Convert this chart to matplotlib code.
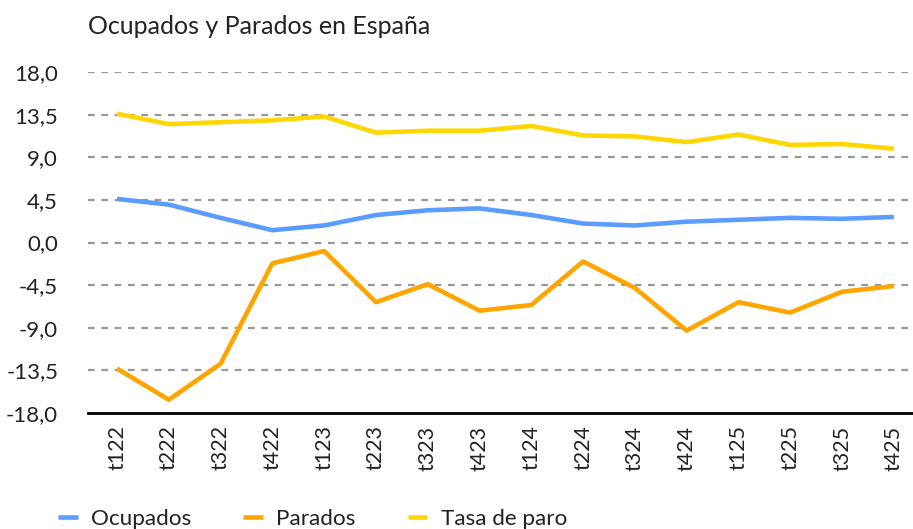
import matplotlib
matplotlib.use("Agg")
import matplotlib.pyplot as plt
from matplotlib.ticker import FixedLocator

plt.rcParams['font.family'] = ['Lato', 'DejaVu Sans']

categories = ["t122", "t222", "t322", "t422", "t123", "t223", "t323", "t423",
              "t124", "t224", "t324", "t424", "t125", "t225", "t325", "t425"]
ocupados = [4.6, 4.0, 2.6, 1.3, 1.8, 2.9, 3.4, 3.6, 2.9, 2.0, 1.8, 2.2, 2.4, 2.6, 2.5, 2.7]
parados = [-13.3, -16.6, -12.8, -2.2, -0.9, -6.3, -4.4, -7.2, -6.6, -2.0, -4.8, -9.3, -6.3, -7.4, -5.2, -4.6]
tasa_paro = [13.6, 12.5, 12.7, 12.9, 13.3, 11.6, 11.8, 11.8, 12.3, 11.3, 11.2, 10.6, 11.4, 10.3, 10.4, 9.9]
yticks = [18.0, 13.5, 9.0, 4.5, 0.0, -4.5, -9.0, -13.5, -18.0]

fig = plt.figure(figsize=(9.13, 5.29), dpi=100)
ax = fig.add_axes([88/913, (529-413)/529, (913-88)/913, 341/529])

x = list(range(len(categories)))
ax.plot(x, ocupados, color='#5B9DFF', lw=3.3, label='Ocupados', solid_capstyle='butt')
ax.plot(x, parados, color='#FFA500', lw=3.3, label='Parados', solid_capstyle='butt')
ax.plot(x, tasa_paro, color='#FFD700', lw=3.3, label='Tasa de paro', solid_capstyle='butt')

ax.set_xlim(-0.56, 15.37)
ax.set_ylim(-18, 18)
ax.yaxis.set_major_locator(FixedLocator(yticks))
ax.set_yticklabels([f"{v:.1f}".replace('.', ',') for v in yticks])
ax.set_xticks(x)
ax.set_xticklabels(categories, rotation=90)
for v in yticks:
    if v != -18:
        ax.axhline(v, color='#999999', lw=1.6, ls=(0, (3, 3)), zorder=0)

for s in ['top', 'right', 'left']:
    ax.spines[s].set_visible(False)
ax.spines['bottom'].set_linewidth(2)
ax.spines['bottom'].set_color('black')
ax.tick_params(axis='both', length=0, colors='#222222')
ax.tick_params(axis='y', pad=21.5, labelsize=16)
ax.tick_params(axis='x', pad=9, labelsize=15.5)

fig.text(88/913, 1 - 27/529, "Ocupados y Parados en España", fontsize=18,
         color='#222222', va='center', ha='left')

leg = fig.legend(loc='center left', bbox_to_anchor=(38/913, 1 - 519/529), ncol=3,
                 frameon=False, fontsize=16.2, handlelength=0.87, columnspacing=2.3,
                 handletextpad=0.6)
for t in leg.get_texts():
    t.set_color('#222222')

fig.savefig("out.png", dpi=100)
